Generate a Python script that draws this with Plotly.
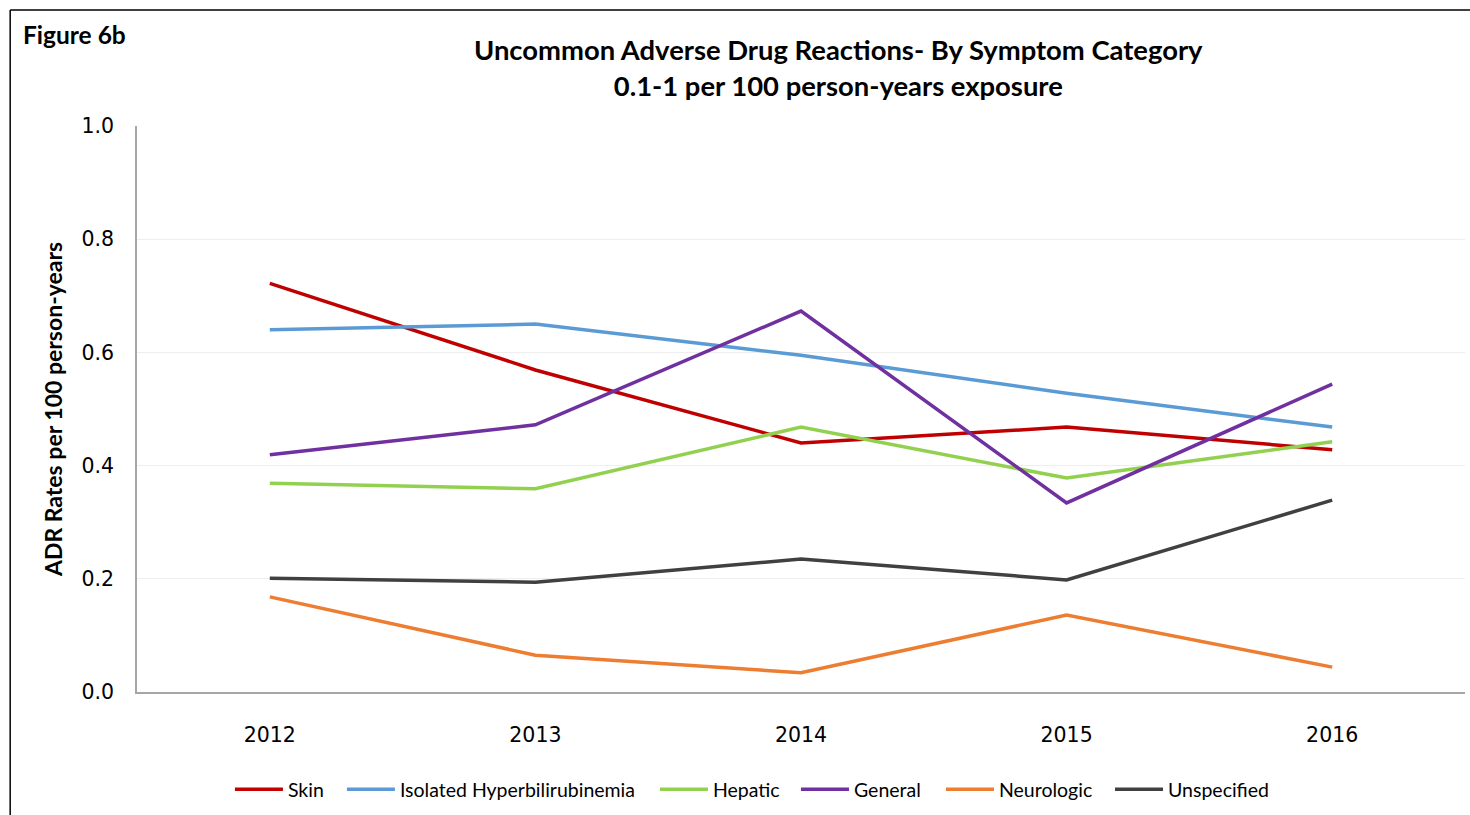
import plotly.graph_objects as go

years = ["2012", "2013", "2014", "2015", "2016"]

skin = [0.722, 0.569, 0.440, 0.468, 0.428]
hyperbilirubinemia = [0.640, 0.650, 0.595, 0.528, 0.468]
hepatic = [0.369, 0.359, 0.468, 0.378, 0.442]
general = [0.419, 0.472, 0.673, 0.334, 0.544]
neurologic = [0.168, 0.065, 0.034, 0.136, 0.044]
unspecified = [0.201, 0.194, 0.235, 0.198, 0.339]

series = [
    ("Skin", skin, "#C00000"),
    ("Isolated Hyperbilirubinemia", hyperbilirubinemia, "#5B9BD5"),
    ("Hepatic", hepatic, "#92D050"),
    ("General", general, "#7030A0"),
    ("Neurologic", neurologic, "#ED7D31"),
    ("Unspecified", unspecified, "#404040"),
]

# left edge of each legend entry, in plot-width fractions
legend_x = [0.0700, 0.1543, 0.3900, 0.4962, 0.6054, 0.7327]

label_font = "Lato, 'Open Sans', sans-serif"
tick_font = dict(family="DejaVu Sans", size=20.5, color="black")

fig = go.Figure()
legend_layouts = {}
for i, ((name, vals, color), lx) in enumerate(zip(series, legend_x)):
    key = "legend" if i == 0 else f"legend{i + 1}"
    fig.add_trace(go.Scatter(
        x=years, y=vals, name=name, mode="lines",
        line=dict(color=color, width=3.5), legend=key,
    ))
    legend_layouts[key] = dict(
        orientation="h", x=lx, xanchor="left", y=-0.138, yanchor="top",
        font=dict(family=label_font, size=19.5, color="black"),
        itemwidth=48, bgcolor="rgba(0,0,0,0)", borderwidth=0,
    )

fig.update_layout(
    width=1470, height=815,
    margin=dict(l=137, r=5, t=126, b=123, autoexpand=False),
    paper_bgcolor="white", plot_bgcolor="white",
    xaxis=dict(
        type="category", range=[-0.5, 4.5], automargin=False,
        showline=True, linecolor="#A6A6A6", linewidth=1.5,
        showgrid=False, ticks="outside", ticklen=24, tickcolor="rgba(0,0,0,0)",
        tickfont=tick_font,
    ),
    yaxis=dict(
        range=[0, 1.0], dtick=0.2, tickformat=".1f", automargin=False,
        showline=True, linecolor="#A6A6A6", linewidth=1.5,
        showgrid=True, gridcolor="#EEEEEE", gridwidth=1,
        zeroline=False, ticks="outside", ticklen=17, tickcolor="rgba(0,0,0,0)",
        tickfont=tick_font,
        title=dict(text="<b>ADR Rates per 100 person-years</b>",
                   font=dict(family=label_font, size=23, color="black"),
                   standoff=12),
    ),
    showlegend=True,
    **legend_layouts,
)

# chart title, two centred bold lines
fig.add_annotation(
    text="<b>Uncommon Adverse Drug Reactions- By Symptom Category<br>0.1-1 per 100 person-years exposure</b>",
    xref="paper", yref="paper", x=0.5286, y=1.168, xanchor="center", yanchor="top",
    showarrow=False, align="center",
    font=dict(family=label_font, size=27.4, color="black"),
)

fig.add_annotation(
    text="<b>Figure 6b</b>", xref="paper", yref="paper",
    x=-0.087, y=1.161, xanchor="left", yanchor="middle", showarrow=False,
    font=dict(family=label_font, size=24.5, color="black"),
)

# outer frame (top and left edges)
fig.add_shape(type="line", xref="paper", yref="paper",
              x0=-0.0955, x1=1.01, y0=1.205, y1=1.205,
              line=dict(color="black", width=1.5))
fig.add_shape(type="line", xref="paper", yref="paper",
              x0=-0.0955, x1=-0.0955, y0=1.205, y1=-0.22,
              line=dict(color="black", width=1.5))

fig.write_html("out.html")
